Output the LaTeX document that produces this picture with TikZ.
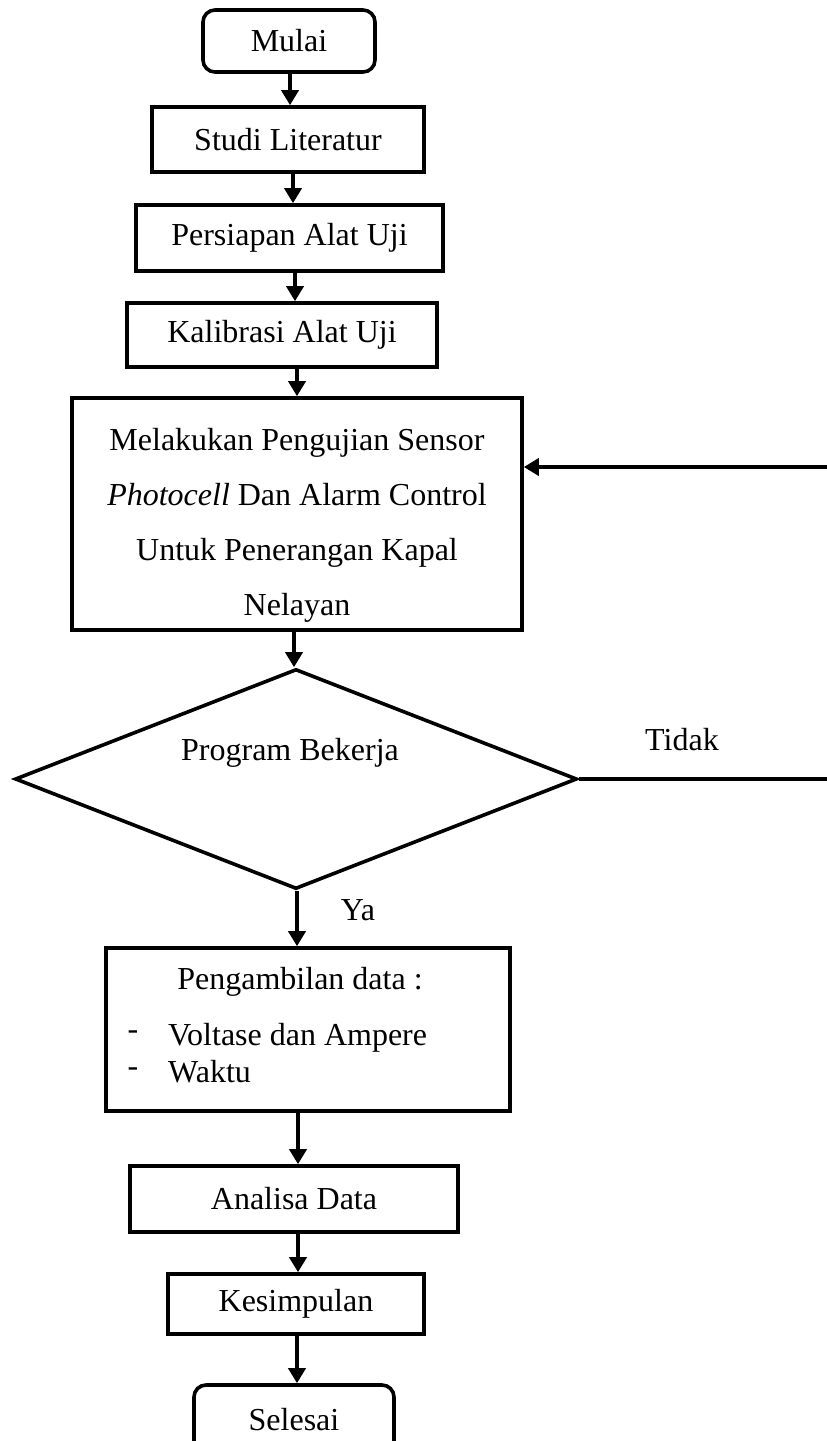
\documentclass[tikz,border=0pt]{standalone}
\usepackage{fontspec}
\setmainfont{Liberation Serif}
\usetikzlibrary{shapes.geometric,arrows.meta}
\begin{document}
\begin{tikzpicture}[x=1pt,y=-1pt,
  every node/.style={font=\fontsize{32pt}{55pt}\selectfont, inner sep=0pt},
  box/.style={draw, line width=3.6pt, rectangle, align=center},
  term/.style={draw, line width=3.6pt, rectangle, rounded corners=12pt, align=center},
  dec/.style={draw, line width=3.6pt, diamond},
  plain/.style={align=center},
  arr/.style={line width=3.6pt, -{Triangle[width=17pt,length=15pt]}},
  conn/.style={line width=3.6pt}]
\useasboundingbox (0,0) rectangle (827,1441);

\node[term, minimum width=172pt, minimum height=62pt] (mulai) at (289,41) {Mulai};
\node[box, minimum width=272pt, minimum height=65pt] (studi) at (288,139.5) {Studi Literatur};
\node[box, minimum width=307pt, minimum height=66pt] (pers) at (289.5,238) {Persiapan Alat Uji};
\node[box, minimum width=310pt, minimum height=64pt] (kal) at (282,335) {Kalibrasi Alat Uji};
\node[box, minimum width=450pt, minimum height=232pt] (mel) at (297,514) {};
\node[plain] (melt) at (297,525)
  {Melakukan Pengujian Sensor\\\textit{Photocell} Dan Alarm Control\\Untuk Penerangan Kapal\\Nelayan};
\node[dec, minimum width=562pt, minimum height=220pt] (dia) at (296,779) {};
\node[plain] (diat) at (290,753) {Program Bekerja};
\node[box, minimum width=404pt, minimum height=163pt] (peng) at (308,1029.5) {};
\node[plain] (pengt) at (300,982) {Pengambilan data :};
\node[plain] (d1) at (133,1035) {-};
\node[plain, anchor=west] (v1) at (168,1038) {Voltase dan Ampere};
\node[plain] (d2) at (133,1072) {-};
\node[plain, anchor=west] (v2) at (168,1072) {Waktu};
\node[box, minimum width=328pt, minimum height=66pt] (anal) at (294,1199) {Analisa Data};
\node[box, minimum width=256pt, minimum height=60pt] (kes) at (296,1304) {Kesimpulan};
\node[term, minimum width=200pt, minimum height=70pt] (sel) at (294,1420) {Selesai};

\node[plain] (tidak) at (682,740) {Tidak};
\node[plain] (ya) at (358,910) {Ya};

\draw[arr] ([xshift=1pt]mulai.south) -- ([xshift=1pt]mulai.south |- studi.north);
\draw[arr] ([xshift=5pt]studi.south) -- ([xshift=5pt]studi.south |- pers.north);
\draw[arr] ([xshift=5.5pt]pers.south) -- ([xshift=5.5pt]pers.south |- kal.north);
\draw[arr] ([xshift=15pt]kal.south) -- ([xshift=15pt]kal.south |- mel.north);
\draw[arr] ([xshift=-3pt]mel.south) -- ([xshift=-3pt]mel.south |- dia.north);
\draw[arr] ([xshift=1pt]dia.south) -- ([xshift=1pt]dia.south |- peng.north);
\draw[arr] ([xshift=-10pt]peng.south) -- ([xshift=-10pt]peng.south |- anal.north);
\draw[arr] ([xshift=4pt]anal.south) -- ([xshift=4pt]anal.south |- kes.north);
\draw[arr] ([xshift=1pt]kes.south) -- ([xshift=1pt]kes.south |- sel.north);

\coordinate (lb) at (845,779);
\coordinate (lt) at (845,467);
\draw[conn] (dia.east) -- (lb) -- (lt);
\draw[arr] (lt) -- (lt -| mel.east);
\end{tikzpicture}
\end{document}
